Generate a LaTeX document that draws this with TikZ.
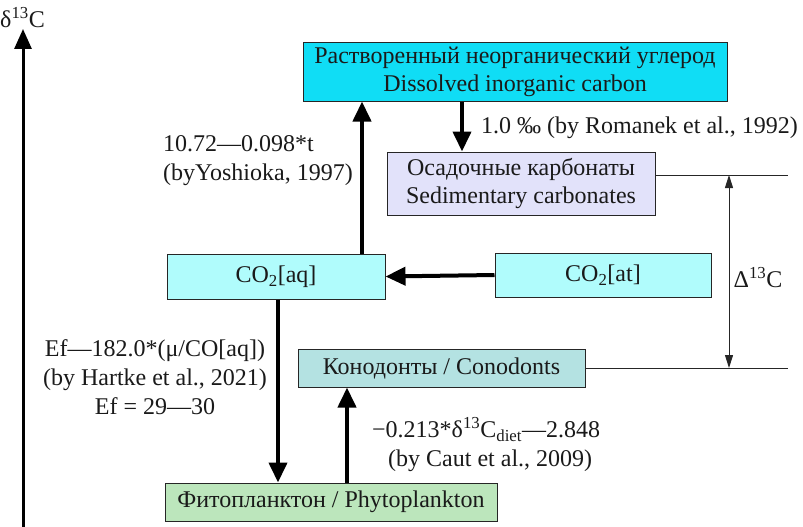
\documentclass[tikz,border=0pt]{standalone}
\usepackage{fontspec}
\setmainfont{Liberation Serif}
\usetikzlibrary{arrows.meta,calc}
\definecolor{dicc}{HTML}{10DDF5}
\definecolor{sedc}{HTML}{E2E2FA}
\definecolor{coc}{HTML}{B0FCFC}
\definecolor{conc}{HTML}{B4E2E2}
\definecolor{phyc}{HTML}{BCE6BC}
\definecolor{txt}{HTML}{1A1A1A}
\begin{document}
\begin{tikzpicture}[x=1pt,y=-1pt,
  box/.style={draw=black!85,line width=1pt,inner sep=0pt,text=txt,align=center,
    font=\fontsize{24}{28}\selectfont},
  lab/.style={text=txt,inner sep=0pt,font=\fontsize{24}{29}\selectfont},
  flow/.style={line width=4pt,-{Triangle[length=20pt,width=18pt]}},
  thin/.style={line width=1pt,black!85}]
\useasboundingbox (0,0) rectangle (803,527);
% axis
\coordinate (ax0) at (23,527);
\coordinate (ax1) at (23,29);
\draw[line width=3pt,-{Triangle[length=20pt,width=17pt]}] (ax0) -- (ax1);
\node[lab,anchor=west] (axl) at (0,18) {δ\textsuperscript{13}C};
% boxes
\node[box,fill=dicc,minimum width=424pt,minimum height=58pt] (dic) at (515,72)
  {Растворенный неорганический углерод\\Dissolved inorganic carbon};
\node[box,fill=sedc,minimum width=268pt,minimum height=63pt] (sed) at (521,183.5)
  {Осадочные карбонаты\\Sedimentary carbonates};
\node[box,fill=coc,minimum width=218pt,minimum height=45pt] (aq) at (276,276.5)
  {CO\textsubscript{2}[aq]};
\node[box,fill=coc,minimum width=216pt,minimum height=44pt] (at) at (603,275)
  {CO\textsubscript{2}[at]};
\node[box,fill=conc,minimum width=287pt,minimum height=38pt] (con) at (441.5,368)
  {Конодонты / Conodonts};
\node[box,fill=phyc,minimum width=332pt,minimum height=38pt] (phy) at (331,502)
  {Фитопланктон / Phytoplankton};
% arrows
\coordinate (xa) at (362,0);
\coordinate (xb) at (462,0);
\coordinate (xc) at (278,0);
\coordinate (xd) at (347,0);
\draw[flow] (xa |- aq.north) -- (xa |- dic.south);
\draw[flow] (xb |- dic.south) -- (xb |- sed.north);
\draw[flow] (at.west) -- (aq.east);
\draw[flow] (xc |- aq.south) -- (xc |- phy.north);
\draw[flow] (xd |- phy.north) -- (xd |- con.south);
% delta lines
\coordinate (r1) at (788,175);
\coordinate (r2) at (788,368);
\coordinate (dx) at (729,0);
\draw[thin] (sed.east |- r1) -- (r1);
\draw[thin] (con.east) -- (r2);
\draw[thin,{Triangle[length=13pt,width=8pt]}-{Triangle[length=13pt,width=8pt]}] (dx |- r1) -- (dx |- r2);
\node[lab] (dl) at (758,278) {Δ\textsuperscript{13}C};
% labels
\node[lab,anchor=west,align=left] (l1) at (163,161) {10.72—0.098*t\\(byYoshioka, 1997)};
\node[lab,anchor=west] (l2) at (481,128) {1.0 ‰ (by Romanek et al., 1992)};
\node[lab,align=center] (l3) at (155,377) {Ef—182.0*(μ/CO[aq])\\(by Hartke et al., 2021)\\Ef = 29—30};
\node[lab,anchor=west,align=left] (l4) at (372,445) {−0.213*δ\textsuperscript{13}C\textsubscript{diet}—2.848\\\hspace{16pt}(by Caut et al., 2009)};
\end{tikzpicture}
\end{document}
